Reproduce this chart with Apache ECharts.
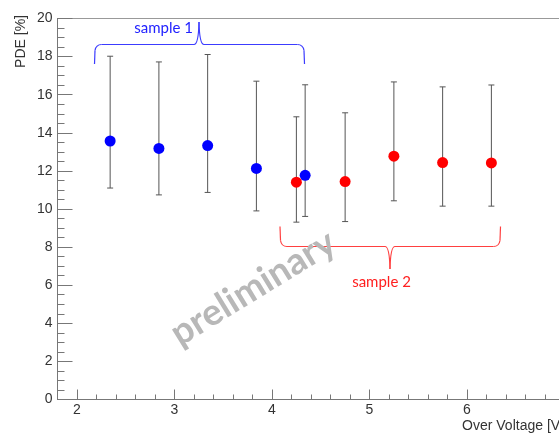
<!DOCTYPE html>
<html>
<head>
<meta charset="utf-8">
<script src="https://cdn.jsdelivr.net/npm/echarts@6.0.0/dist/echarts.min.js"></script>
<style>
  html, body { margin: 0; padding: 0; background: #fff; }
  #chart { width: 559px; height: 434px; }
</style>
</head>
<body>
<div id="chart"></div>
<script>
  // sample 1 (blue)
  const s1Voltage = [2.34, 2.84, 3.34, 3.84, 4.34];
  const s1Pde = [13.57, 13.18, 13.33, 12.13, 11.77];
  const s1Low = [11.10, 10.74, 10.87, 9.90, 9.61];
  const s1High = [18.02, 17.72, 18.11, 16.71, 16.52];
  // sample 2 (red)
  const s2Voltage = [4.25, 4.75, 5.25, 5.75, 6.25];
  const s2Pde = [11.41, 11.44, 12.77, 12.44, 12.42];
  const s2Low = [9.31, 9.34, 10.43, 10.15, 10.15];
  const s2High = [14.84, 15.05, 16.67, 16.41, 16.51];
  // tick labels
  const xMajorTicks = [2, 3, 4, 5, 6, 7];

  const chart = echarts.init(document.getElementById('chart'));

  const pts = (xs, ys) => xs.map((x, i) => [x, ys[i]]);
  const bars = (xs, lo, hi) => xs.map((x, i) => [x, lo[i], hi[i]]);
  const labelFont = {color: '#333', fontSize: 14, fontFamily: 'Liberation Sans, Arial'};

  function errorBar(params, api) {
    const x = api.value(0);
    const top = api.coord([x, api.value(2)]);
    const bot = api.coord([x, api.value(1)]);
    const st = {stroke: '#555', lineWidth: 1};
    const w = 3;
    return {
      type: 'group',
      children: [
        {type: 'line', shape: {x1: top[0], y1: top[1], x2: bot[0], y2: bot[1]}, style: st},
        {type: 'line', shape: {x1: top[0] - w, y1: top[1], x2: top[0] + w, y2: top[1]}, style: st},
        {type: 'line', shape: {x1: bot[0] - w, y1: bot[1], x2: bot[0] + w, y2: bot[1]}, style: st}
      ]
    };
  }

  // curly brace made of lines + quadratic curves
  function brace(x1, x2, yEnd, yBar, xTip, yTip, color) {
    const d = yBar > yEnd ? 1 : -1;   // direction from the ends toward the bar
    const r = 6;
    const st = {stroke: color, fill: null, lineWidth: 1.2};
    const ln = (a, b, c, e) => ({type: 'line', shape: {x1: a, y1: b, x2: c, y2: e}, style: st});
    const qc = (a, b, cx, cy, c, e) => ({type: 'bezierCurve', shape: {x1: a, y1: b, cpx1: cx, cpy1: cy, x2: c, y2: e}, style: st});
    return {
      type: 'group', z: 10,
      children: [
        ln(x1, yEnd, x1 + 0.5, yBar - d * r),
        qc(x1 + 0.5, yBar - d * r, x1 + 1.5, yBar, x1 + 7, yBar),
        ln(x1 + 7, yBar, xTip - 5, yBar),
        qc(xTip - 5, yBar, xTip - 0.5, yBar, xTip, yTip),
        qc(xTip, yTip, xTip + 0.5, yBar, xTip + 5, yBar),
        ln(xTip + 5, yBar, x2 - 7, yBar),
        qc(x2 - 7, yBar, x2 - 1.5, yBar, x2 - 0.5, yBar - d * r),
        ln(x2 - 0.5, yBar - d * r, x2, yEnd)
      ]
    };
  }

  const option = {
    backgroundColor: '#fff',
    animation: false,
    grid: {
      left: 57.5, top: 18.5, bottom: 34.5, width: 507,
      outerBoundsMode: 'none', containLabel: false,
      show: true, borderColor: '#999', borderWidth: 1
    },
    xAxis: [
      {
        // major ticks + labels
        type: 'value', min: 1.8, max: 7,
        axisLine: {lineStyle: {color: '#777'}},
        axisTick: {inside: true, length: 10, customValues: xMajorTicks, lineStyle: {color: '#777'}},
        axisLabel: {customValues: xMajorTicks, margin: 4, ...labelFont},
        splitLine: {show: false}
      },
      {
        // minor ticks only
        type: 'value', min: 1.8, max: 7, interval: 0.2, position: 'bottom',
        axisLine: {show: false},
        axisTick: {inside: true, length: 5, lineStyle: {color: '#777'}},
        axisLabel: {show: false},
        splitLine: {show: false}
      }
    ],
    yAxis: {
      type: 'value', min: 0, max: 20, interval: 2,
      axisLine: {show: true, lineStyle: {color: '#777'}},
      axisTick: {show: true, inside: true, length: 15, lineStyle: {color: '#777'}},
      minorTick: {show: true, splitNumber: 4, length: 7, lineStyle: {color: '#777'}},
      axisLabel: {margin: 5, ...labelFont},
      splitLine: {show: false}
    },
    series: [
      {type: 'custom', renderItem: errorBar, data: bars(s1Voltage, s1Low, s1High), z: 2},
      {type: 'custom', renderItem: errorBar, data: bars(s2Voltage, s2Low, s2High), z: 2},
      {
        name: 'sample 1', type: 'scatter', symbolSize: 11, z: 3,
        itemStyle: {color: '#0000ff', opacity: 1},
        data: pts(s1Voltage, s1Pde)
      },
      {
        name: 'sample 2', type: 'scatter', symbolSize: 11, z: 3,
        itemStyle: {color: '#ff0000', opacity: 1},
        data: pts(s2Voltage, s2Pde)
      }
    ],
    graphic: [
      {
        type: 'text', x: 21.5, y: 15, rotation: Math.PI / 2,
        style: {text: 'PDE [%]', align: 'right', verticalAlign: 'middle', fill: '#333',
          font: '14px Liberation Sans, Arial'}
      },
      {
        type: 'text', x: 564, y: 426,
        style: {text: 'Over Voltage [V]', align: 'right', verticalAlign: 'middle', fill: '#333',
          font: '14px Liberation Sans, Arial'}
      },
      brace(94.5, 304.5, 64, 44.5, 199, 22, '#3c3cff'),
      {
        type: 'text', x: 193, y: 28.5, z: 10,
        style: {text: 'sample 1', align: 'right', verticalAlign: 'middle', fill: '#2222ff',
          font: '15px Lato, Open Sans'}
      },
      brace(280, 500.5, 226.5, 246.5, 390, 269, '#ff4040'),
      {
        type: 'text', x: 381.5, y: 282.5, z: 10,
        style: {text: 'sample 2', align: 'center', verticalAlign: 'middle', fill: '#ff2020',
          font: '15px Lato, Open Sans'}
      },
      // watermark
      {
        type: 'text', x: 253, y: 288, rotation: 0.55, z: 1,
        style: {text: 'preliminary', align: 'center', verticalAlign: 'middle', fill: '#b8b8b8',
          font: 'bold 37px Lato, Open Sans'}
      }
    ]
  };

  chart.setOption(option);
</script>
</body>
</html>
